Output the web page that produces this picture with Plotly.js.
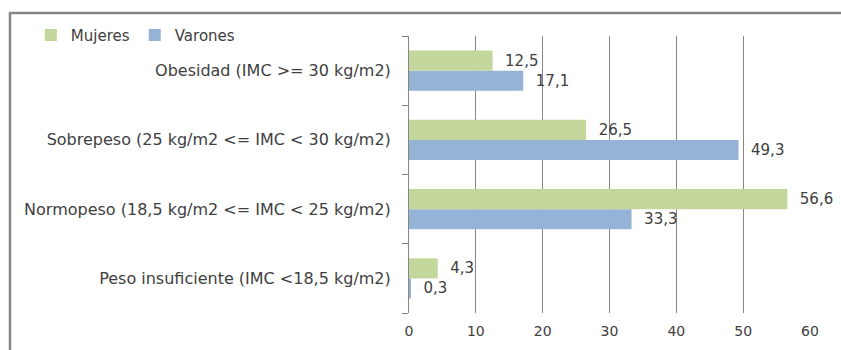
<!DOCTYPE html>
<html>
<head>
<meta charset="utf-8">
<script src="https://cdn.plot.ly/plotly-3.0.1.min.js"></script>
<style>html,body{margin:0;padding:0;background:#fff;}#chart{width:841px;height:350px;}</style>
</head>
<body>
<div id="chart"></div>
<script>
const categories = [
  "Peso insuficiente (IMC <18,5 kg/m2)",
  "Normopeso (18,5 kg/m2 <= IMC < 25 kg/m2)",
  "Sobrepeso (25 kg/m2 <= IMC < 30 kg/m2)",
  "Obesidad (IMC >= 30 kg/m2)"
];
const mujeres = [4.3, 56.6, 26.5, 12.5];
const varones = [0.3, 33.3, 49.3, 17.1];
const xTicks = [0, 10, 20, 30, 40, 50, 60];

const FONT = "DejaVu Sans, sans-serif";
const textFont = {family: FONT, size: 15, color: "#404040"};
const traces = [
  {
    type: "bar", orientation: "h", name: "Varones",
    y: categories, x: varones,
    marker: {color: "#95B3D7"},
    texttemplate: "\u00a0\u00a0%{x:.1f}", textposition: "outside",
    textfont: textFont, cliponaxis: false, hoverinfo: "x+name"
  },
  {
    type: "bar", orientation: "h", name: "Mujeres",
    y: categories, x: mujeres,
    marker: {color: "#C3D69B"},
    texttemplate: "\u00a0\u00a0%{x:.1f}", textposition: "outside",
    textfont: textFont, cliponaxis: false, hoverinfo: "x+name"
  }
];

const layout = {
  width: 841, height: 350,
  margin: {l: 409, r: 31, t: 36, b: 37, autoexpand: false},
  paper_bgcolor: "#ffffff", plot_bgcolor: "#ffffff",
  separators: ",.",
  barmode: "group", bargap: 0.42, bargroupgap: 0,
  showlegend: true,
  legend: {
    orientation: "h", traceorder: "reversed",
    x: -0.943, y: 1.062, xanchor: "left", yanchor: "top",
    font: {family: FONT, size: 15, color: "#404040"},
    bgcolor: "rgba(0,0,0,0)", itemwidth: 30, tracegroupgap: 0
  },
  xaxis: {
    range: [0, 60], tickvals: xTicks, ticktext: xTicks.map(String),
    showgrid: true, gridcolor: "#868686", gridwidth: 1,
    zeroline: false, showline: false, ticks: "",
    tickfont: {family: FONT, size: 14, color: "#404040"},
    ticklabelstandoff: 8,
    fixedrange: true
  },
  yaxis: {
    type: "category", categoryorder: "array", categoryarray: categories,
    showline: true, linecolor: "#868686", linewidth: 1,
    ticks: "outside", tickson: "boundaries", ticklen: 6, tickcolor: "#868686",
    showgrid: false, zeroline: false,
    tickfont: {family: FONT, size: 16, color: "#404040"},
    ticklabelstandoff: 14,
    fixedrange: true
  },
  shapes: [
    {type: "rect", xref: "paper", yref: "paper",
     x0: -0.995, x1: 1.3, y0: -0.4, y1: 1.083,
     line: {color: "#868686", width: 2.5}, fillcolor: "rgba(0,0,0,0)"}
  ]
};

Plotly.newPlot("chart", traces, layout, {displayModeBar: false, staticPlot: true});
</script>
</body>
</html>
